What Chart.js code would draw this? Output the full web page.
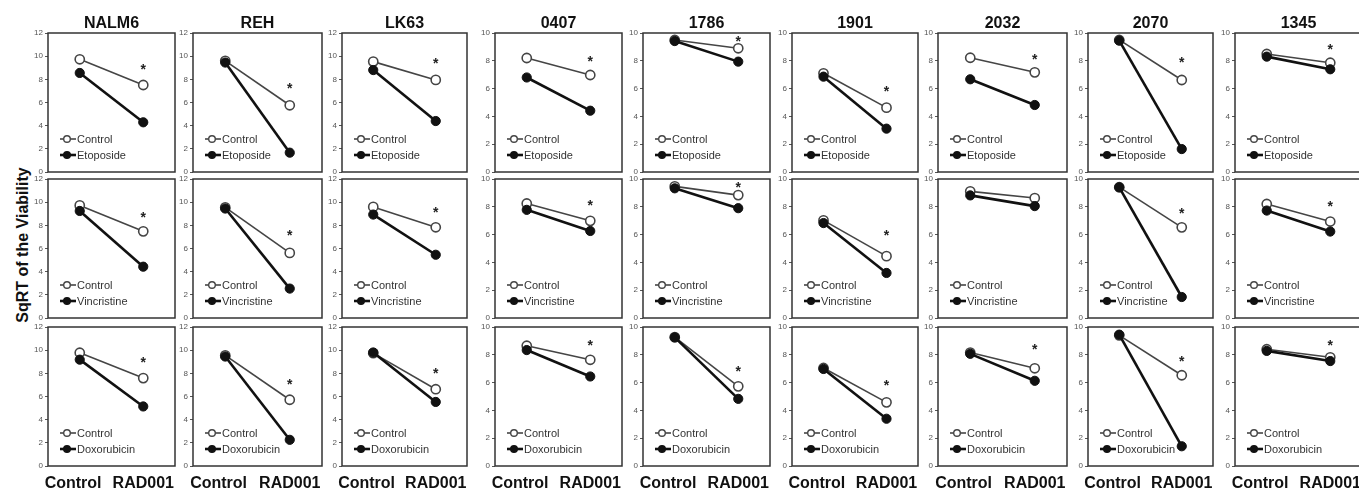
<!DOCTYPE html>
<html><head><meta charset="utf-8">
<script src="https://cdn.jsdelivr.net/npm/chart.js@4.4.1/dist/chart.umd.min.js"></script>
<style>
html,body{margin:0;padding:0;background:#fff;}
body{width:1359px;height:490px;overflow:hidden;position:relative;font-family:"Liberation Sans",Arial,sans-serif;}
canvas{position:absolute;}
.title{position:absolute;font-weight:bold;font-size:16px;line-height:16px;color:#111;white-space:nowrap;transform:translateX(-50%);}
.ylab{position:absolute;left:23px;top:245px;font-weight:bold;font-size:16px;line-height:16px;color:#111;white-space:nowrap;transform:translate(-50%,-50%) rotate(-90deg);}
</style></head><body>
<div class="ylab">SqRT of the Viability</div>
<script>
// ---- data ----
const cellLines = ['NALM6','REH','LK63','0407','1786','1901','2032','2070','1345'];
const yAxisMax = [12,12,12,10,10,10,10,10,10];
const yTickStep = 2;
const xCategories = ['Control','RAD001'];
const drugNames = ['Etoposide','Vincristine','Doxorubicin'];

// each entry: [Control, RAD001]
const etoposideCtrl = [[9.73,7.51],[9.6,5.76],[9.53,7.95],[8.2,6.98],[9.5,8.9],[7.1,4.63],[8.22,7.17],[9.5,6.62],[8.49,7.86]];
const etoposideDrug = [[8.55,4.29],[9.45,1.67],[8.8,4.4],[6.8,4.41],[9.42,7.94],[6.86,3.12],[6.67,4.82],[9.45,1.65],[8.3,7.39]];
const etoposideStar = [9.15,7.5,9.67,8.22,9.66,6.02,8.37,8.1,9.06];

const vincristineCtrl = [[9.72,7.48],[9.55,5.62],[9.59,7.83],[8.24,6.99],[9.47,8.84],[7.02,4.45],[9.11,8.63],[9.41,6.52],[8.2,6.94]];
const vincristineDrug = [[9.24,4.43],[9.45,2.54],[8.93,5.46],[7.78,6.26],[9.33,7.9],[6.83,3.24],[8.82,8.05],[9.4,1.51],[7.73,6.22]];
const vincristineStar = [9.0,7.46,9.45,8.31,9.64,6.2,null,7.8,8.27];

const doxorubicinCtrl = [[9.78,7.59],[9.55,5.72],[9.74,6.63],[8.65,7.64],[9.27,5.73],[7.05,4.58],[8.16,7.03],[9.4,6.53],[8.4,7.82]];
const doxorubicinDrug = [[9.18,5.14],[9.45,2.26],[9.8,5.53],[8.34,6.44],[9.25,4.83],[6.98,3.4],[8.07,6.13],[9.45,1.42],[8.28,7.55]];
const doxorubicinStar = [9.26,7.3,8.27,8.94,7.05,6.05,8.6,7.8,8.9];

const rowCtrl = [etoposideCtrl, vincristineCtrl, doxorubicinCtrl];
const rowDrug = [etoposideDrug, vincristineDrug, doxorubicinDrug];
const rowStar = [etoposideStar, vincristineStar, doxorubicinStar];

// ---- layout ----
const boxLeft  = [48,193,342,495,643,792,938,1088,1235];
const boxRight = [175,322,467,622,770,918,1067,1213,1362];
const rowTop    = [33,179,327];
const rowBottom = [172,318,466];

const FONT = '"Liberation Sans", Arial, sans-serif';
const CTRL_COLOR = '#454545';
const DRUG_COLOR = '#111';

const boxPlugin = {
  id:'panelBox',
  afterDraw(chart){
    const a = chart.chartArea, ctx = chart.ctx;
    ctx.save();
    ctx.strokeStyle = '#333'; ctx.lineWidth = 1.5;
    ctx.strokeRect(a.left, a.top, a.right - a.left, a.bottom - a.top);
    ctx.restore();
  }
};

const starPlugin = {
  id:'sigStar',
  afterDatasetsDraw(chart, args, opts){
    if (opts.value == null) return;
    const ctx = chart.ctx;
    const x = chart.scales.x.getPixelForValue(1);
    const y = chart.scales.y.getPixelForValue(opts.value);
    ctx.save();
    ctx.fillStyle = '#222';
    ctx.font = 'bold 14px ' + FONT;
    ctx.textAlign = 'center'; ctx.textBaseline = 'alphabetic';
    ctx.fillText('*', x, y + 8);
    ctx.restore();
  }
};

const legendPlugin = {
  id:'innerLegend',
  afterDraw(chart){
    const a = chart.chartArea, ctx = chart.ctx;
    const items = chart.data.datasets.slice().sort((p,q)=>q.order-p.order);
    ctx.save();
    items.forEach((ds, i) => {
      const y = a.bottom - 33 + i * 16;
      const x0 = a.left + 12, xm = a.left + 19, x1 = a.left + 28;
      ctx.strokeStyle = ds.borderColor; ctx.lineWidth = ds.borderWidth;
      ctx.beginPath(); ctx.moveTo(x0, y); ctx.lineTo(x1, y); ctx.stroke();
      ctx.beginPath(); ctx.arc(xm, y, 3.3, 0, Math.PI * 2);
      ctx.fillStyle = ds.pointBackgroundColor; ctx.fill();
      ctx.lineWidth = 1.4; ctx.strokeStyle = ds.pointBorderColor; ctx.stroke();
      ctx.fillStyle = '#333';
      ctx.font = '11px ' + FONT;
      ctx.textAlign = 'left'; ctx.textBaseline = 'middle';
      ctx.fillText(ds.label, x1 + 1, y + 0.5);
    });
    ctx.restore();
  }
};

function makePanel(col, row){
  const L = boxLeft[col], R = boxRight[col], T = rowTop[row], B = rowBottom[row];
  const AX = 30, PT = 8, PR = 3;
  const bottomRow = row === 2;
  const PB = bottomRow ? 0 : 8, XH = bottomRow ? 27 : 0;
  const w = AX + (R - L) + PR, h = PT + (B - T) + PB + XH;
  const cv = document.createElement('canvas');
  cv.width = w; cv.height = h;
  cv.style.width = w + 'px'; cv.style.height = h + 'px';
  cv.style.left = (L - AX) + 'px'; cv.style.top = (T - PT) + 'px';
  document.body.appendChild(cv);

  new Chart(cv, {
    type:'line',
    data:{
      labels: xCategories,
      datasets:[
        {label:'Control', data: rowCtrl[row][col], order:1,
         borderColor:CTRL_COLOR, borderWidth:1.6, pointRadius:4.6,
         pointBackgroundColor:'#fff', pointBorderColor:CTRL_COLOR, pointBorderWidth:1.6, tension:0},
        {label: drugNames[row], data: rowDrug[row][col], order:0,
         borderColor:DRUG_COLOR, borderWidth:2.6, pointRadius:4.6,
         pointBackgroundColor:DRUG_COLOR, pointBorderColor:DRUG_COLOR, pointBorderWidth:1, tension:0}
      ]
    },
    options:{
      responsive:false, animation:false, devicePixelRatio:1,
      layout:{autoPadding:false, padding:{left:0, top:PT, right:PR, bottom:PB}},
      plugins:{
        legend:{display:false}, tooltip:{enabled:false}, title:{display:false},
        sigStar:{value: rowStar[row][col]}
      },
      scales:{
        x:{type:'category', offset:true, display: bottomRow,
           grid:{display:false, drawTicks:false}, border:{display:false},
           ticks:{color:'#111', font:{family:FONT, size:16, weight:'bold'}, padding:8, maxRotation:0, autoSkip:false,
                  callback(v, i){ const s = this.getLabelForValue(v); return i === 0 ? s + '   ' : s; }},
           afterFit(s){ s.height = XH; s.paddingLeft = 0; s.paddingRight = 0; }},
        y:{min:0, max:yAxisMax[col],
           ticks:{stepSize:yTickStep, color:'#555', font:{family:FONT, size:8}, padding:2},
           grid:{drawOnChartArea:false, tickLength:3, color:'#555', lineWidth:1},
           border:{display:false},
           afterFit(s){ s.width = AX; s.paddingTop = 0; s.paddingBottom = 0; }}
      }
    },
    plugins:[boxPlugin, starPlugin, legendPlugin]
  });
}

for (let r = 0; r < 3; r++) for (let c = 0; c < cellLines.length; c++) makePanel(c, r);

cellLines.forEach((name, c) => {
  const d = document.createElement('div');
  d.className = 'title';
  d.textContent = name;
  d.style.left = ((boxLeft[c] + boxRight[c]) / 2) + 'px';
  d.style.top = '15px';
  document.body.appendChild(d);
});
</script>
</body></html>
